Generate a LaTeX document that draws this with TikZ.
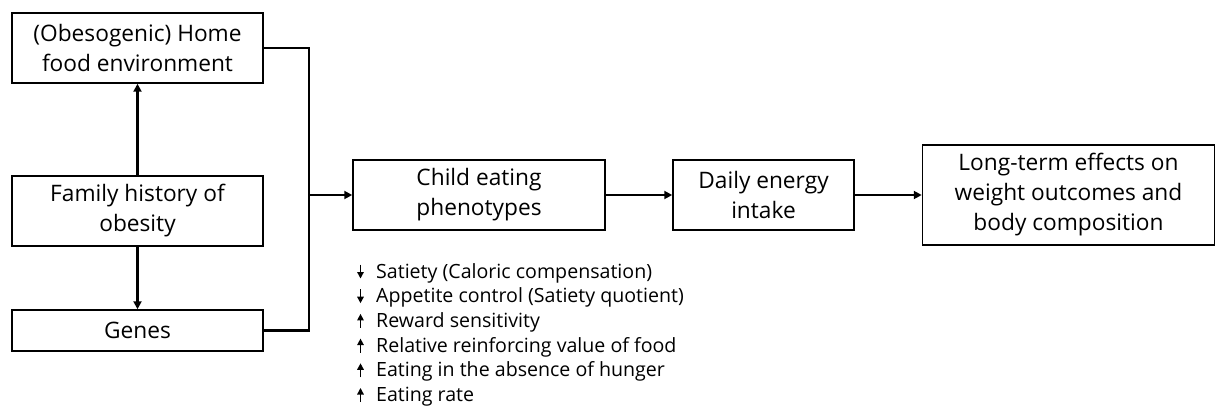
\documentclass[tikz,border=0pt]{standalone}
\usepackage{fontspec}
\setmainfont{Open Sans}
\usetikzlibrary{arrows.meta}
\begin{document}
\begin{tikzpicture}[x=1pt,y=-1pt,
  box/.style={draw,line width=1.5pt,inner sep=0pt,align=center,
    font=\fontsize{22.7}{30}\selectfont},
  link/.style={line width=2.2pt},
  arr/.style={link,-{Triangle[length=8pt,width=8pt]}},
  item/.style={anchor=base west,inner sep=0pt,font=\fontsize{19.6}{24}\selectfont},
  trend/.style={line width=1.4pt,-{Triangle[length=6.5pt,width=6.5pt]}}]
\useasboundingbox (0,0) rectangle (1216,409);

% causes
\node[box,minimum width=251pt,minimum height=70pt] (home) at (137.5,48) {(Obesogenic) Home\\food environment};
\node[box,minimum width=251pt,minimum height=70pt] (family) at (137.5,211) {Family history of\\obesity};
\node[box,minimum width=251pt,minimum height=41pt] (genes) at (137.5,330.5) {Genes};

% pathway
\node[box,minimum width=252pt,minimum height=70pt] (child) at (479,195) {Child eating\\phenotypes};
\node[box,minimum width=181pt,minimum height=70pt] (daily) at (763.5,195) {Daily energy\\intake};
\node[box,minimum width=292pt,minimum height=100pt] (long) at (1068.5,195) {Long-term effects on\\weight outcomes and\\body composition};

\draw[arr] (family) -- (home);
\draw[arr] (family) -- (genes);

\coordinate (j) at (308,195);
\draw[link] (home.east) -- ++(45,0) |- (genes.east);
\draw[arr] (j) -- (child);
\draw[arr] (child) -- (daily);
\draw[arr] (daily) -- (long);

% phenotype characteristics, each with its direction of change
\foreach \i/\t/\d in {0/Satiety (Caloric compensation)/1,
                      1/Appetite control (Satiety quotient)/1,
                      2/Reward sensitivity/-1,
                      3/Relative reinforcing value of food/-1,
                      4/Eating in the absence of hunger/-1,
                      5/Eating rate/-1}{
  \node[item] (t\i) at (376,278+24.7*\i) {\t};
  \draw[trend] (360.5,271.5+24.7*\i-7*\d) -- (360.5,271.5+24.7*\i+7*\d);
}
\end{tikzpicture}
\end{document}
